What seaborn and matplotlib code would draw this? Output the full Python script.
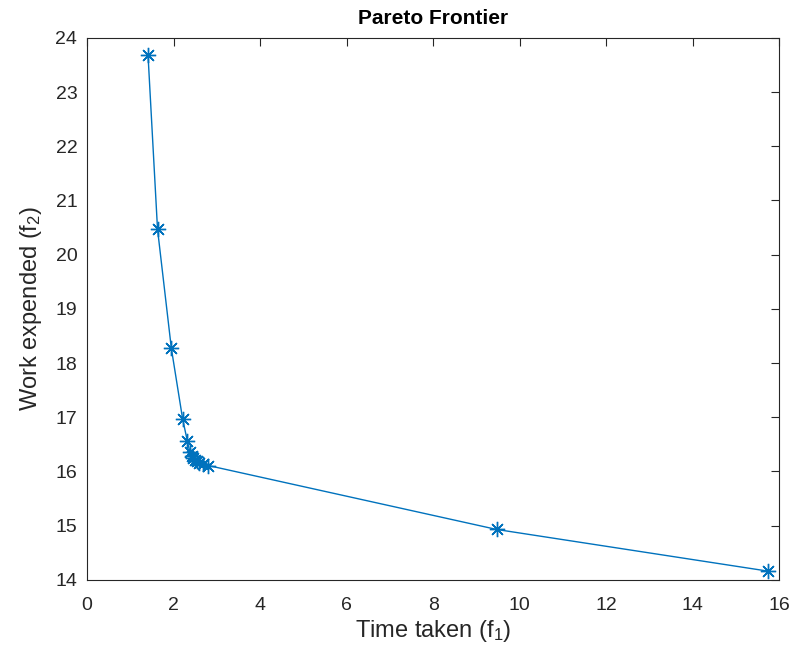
import matplotlib
matplotlib.use("Agg")
import matplotlib.pyplot as plt
import pandas as pd
import seaborn as sb

# pareto points
time_taken = [1.41, 1.63, 1.95, 2.21, 2.32, 2.38, 2.42, 2.46, 2.50, 2.55, 2.60, 2.68, 2.80, 9.47, 15.75]
work_expended = [23.69, 20.47, 18.27, 16.97, 16.56, 16.35, 16.29, 16.25, 16.22, 16.19, 16.16, 16.14, 16.11, 14.93, 14.16]

df = pd.DataFrame({"time": time_taken, "work": work_expended})

sb.set_style("white")
plt.rcParams['font.family'] = ['Liberation Sans', 'DejaVu Sans']
plt.rcParams['mathtext.fontset'] = 'custom'
plt.rcParams['mathtext.rm'] = 'Liberation Sans'
plt.rcParams['mathtext.it'] = 'Liberation Sans'

fig = plt.figure(figsize=(7.91, 6.53), dpi=100)
ax = fig.add_axes([0.110, 0.112, 0.875, 0.830])

# MATLAB-like blue line with asterisk markers (8 spokes)
sb.lineplot(data=df, x="time", y="work", sort=False, color="#0072BD",
            marker=(8, 2, 0), markersize=11, markeredgecolor="#0072BD",
            markeredgewidth=1.0, linewidth=1.0, ax=ax)

ax.set_xlim(0, 16)
ax.set_ylim(14, 24)
ax.set_xticks(range(0, 17, 2))
ax.set_yticks(range(14, 25))
ax.tick_params(direction="in", top=True, right=True, length=6,
               labelsize=14, colors="#262626", width=0.8)
ax.tick_params(axis="x", pad=12)
ax.tick_params(axis="y", pad=7)
for s in ax.spines.values():
    s.set_color("#262626")
    s.set_linewidth(0.8)

ax.set_xlabel("Time taken (f$_1$)", fontsize=17, color="#262626", labelpad=3)
ax.set_ylabel("Work expended (f$_2$)", fontsize=17, color="#262626", labelpad=8)
ax.set_title("Pareto Frontier", fontsize=15, fontweight="bold", color="black", pad=10)

fig.savefig("out.png", dpi=100)
